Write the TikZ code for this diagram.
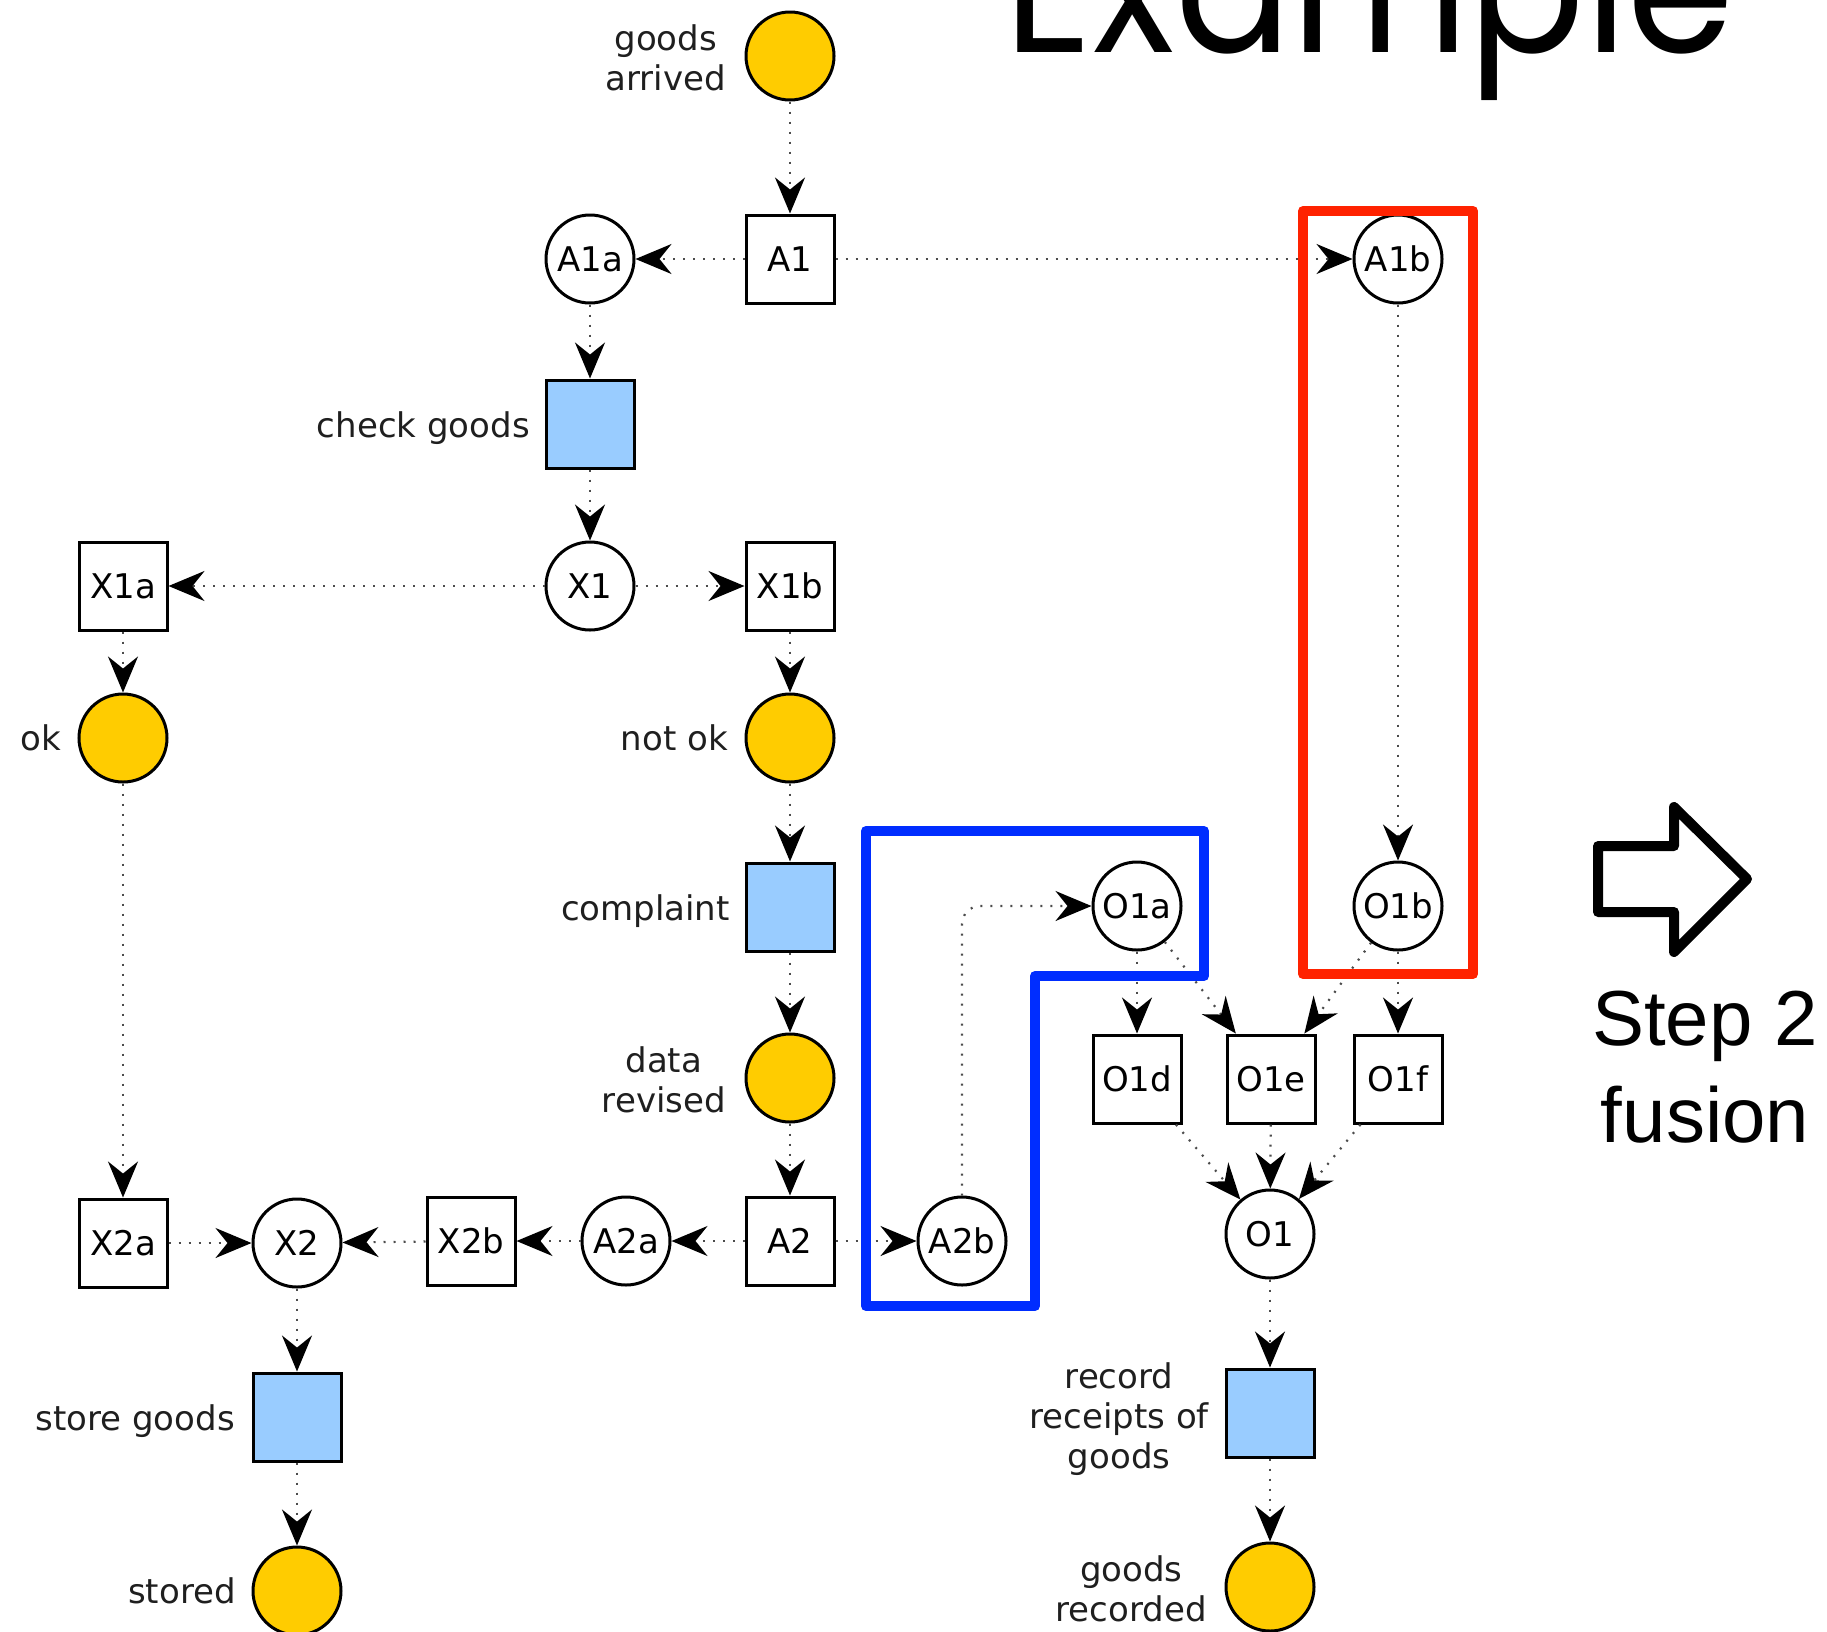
\documentclass[tikz,border=0pt]{standalone}
\usepackage{graphicx}
\usepackage{fontspec}
\setmainfont{DejaVu Sans}
\newfontfamily\armfont{Liberation Sans}
\newfontfamily\titlefont{Poppins}
\usetikzlibrary{arrows.meta}
\definecolor{pyellow}{RGB}{255,204,0}
\definecolor{tblue}{RGB}{153,204,255}
\definecolor{fred}{RGB}{255,34,0}
\definecolor{fblue}{RGB}{0,45,255}
\begin{document}
\begin{tikzpicture}[x=1pt,y=-1pt,
 every node/.style={font=\fontsize{34}{40}\selectfont},
 pl/.style={circle,draw,line width=3pt,minimum size=88pt,inner sep=0pt},
 tr/.style={rectangle,draw,line width=3pt,minimum size=88pt,inner sep=0pt},
 tok/.style={pl,fill=pyellow},
 task/.style={tr,fill=tblue},
 lbl/.style={align=center,inner sep=0pt,anchor=east,text=black!88},
 flow/.style={draw=black!70,line width=2.2pt,dash pattern=on 2pt off 8pt,-{Stealth[black,length=36pt,width=30pt,inset=12pt]}},
 frame/.style={line width=10pt,line join=round},
 ]
\useasboundingbox (0,0) rectangle (1827,1631);
\clip (0,0) rectangle (1827,1631);

% title
\node[anchor=base west,inner sep=0pt,font=\titlefont\fontsize{185}{200}\selectfont] (ttl) at (1004,52) {\resizebox{730pt}{\height}{Example}};

% nodes
\node[tok] (ga) at (790,56) {};
\node[lbl] (gal) at (726,58) {goods\\arrived};
\node[tr] (A1) at (790,259) {A1};
\node[pl] (A1a) at (590,259) {A1a};
\node[pl] (A1b) at (1398,259) {A1b};
\node[task] (cg) at (590,424) {};
\node[lbl] (cgl) at (530,428) {check goods};
\node[pl] (X1) at (590,586) {X1};
\node[tr] (X1a) at (123,586) {X1a};
\node[tr] (X1b) at (790,586) {X1b};
\node[tok] (ok) at (123,738) {};
\node[lbl] (okl) at (61,738) {ok};
\node[tok] (nok) at (790,738) {};
\node[lbl] (nokl) at (728,738) {not ok};
\node[task] (comp) at (790,907) {};
\node[lbl] (compl) at (730,911) {complaint};
\node[tok] (dr) at (790,1078) {};
\node[lbl] (drl) at (726,1080) {data\\revised};
\node[pl] (O1a) at (1137,906) {O1a};
\node[pl] (O1b) at (1398,906) {O1b};
\node[tr] (O1d) at (1137,1079) {O1d};
\node[tr] (O1e) at (1271,1079) {O1e};
\node[tr] (O1f) at (1398,1079) {O1f};
\node[pl] (O1) at (1270,1234) {O1};
\node[tr] (X2a) at (123,1243) {X2a};
\node[pl] (X2) at (297,1243) {X2};
\node[tr] (X2b) at (471,1241) {X2b};
\node[pl] (A2a) at (626,1241) {A2a};
\node[tr] (A2) at (790,1241) {A2};
\node[pl] (A2b) at (962,1241) {A2b};
\node[task] (sg) at (297,1417) {};
\node[lbl] (sgl) at (235,1421) {store goods};
\node[tok] (st) at (297,1591) {};
\node[lbl] (stl) at (236,1591) {stored};
\node[task] (rr) at (1270,1413) {};
\node[lbl] (rrl) at (1209,1419) {record\\receipts of\\goods};
\node[tok] (gr) at (1270,1587) {};
\node[lbl] (grl) at (1207,1589) {goods\\recorded};

% connectors
\draw[flow] (ga) -- (A1);
\draw[flow] (A1) -- (A1a);
\draw[flow] (A1) -- (A1b);
\draw[flow] (A1a) -- (cg);
\draw[flow] (cg) -- (X1);
\draw[flow] (X1) -- (X1a);
\draw[flow] (X1) -- (X1b);
\draw[flow] (X1a) -- (ok);
\draw[flow] (X1b) -- (nok);
\draw[flow] (nok) -- (comp);
\draw[flow] (comp) -- (dr);
\draw[flow] (dr) -- (A2);
\draw[flow] (ok) -- (X2a);
\draw[flow] (X2a) -- (X2);
\draw[flow] (X2b) -- (X2);
\draw[flow] (A2a) -- (X2b);
\draw[flow] (A2) -- (A2a);
\draw[flow] (A2) -- (A2b);
\draw[flow,rounded corners=18pt] (A2b.north) |- (O1a.west);
\draw[flow] (A1b) -- (O1b);
\draw[flow] (O1a) -- (O1d);
\draw[flow] (O1a) -- (O1e);
\draw[flow] (O1b) -- (O1e);
\draw[flow] (O1b) -- (O1f);
\draw[flow] (O1d) -- (O1);
\draw[flow] (O1e) -- (O1);
\draw[flow] (O1f) -- (O1);
\draw[flow] (O1) -- (rr);
\draw[flow] (rr) -- (gr);
\draw[flow] (X2) -- (sg);
\draw[flow] (sg) -- (st);

% highlight frames
\draw[frame,fred] (1303,211) rectangle (1473,974);
\draw[frame,fblue] (866,831) -- (1204,831) -- (1204,976) -- (1035,976) -- (1035,1306) -- (866,1306) -- cycle;

% fusion arrow
\draw[frame] (1598,846) -- (1674,846) -- (1674,807) -- (1747,879) -- (1674,952) -- (1674,912) -- (1598,912) -- cycle;
\node[anchor=base,inner sep=0pt,font=\armfont\fontsize{78}{90}\selectfont] (st2) at (1705,1045) {Step 2};
\node[anchor=base,inner sep=0pt,font=\armfont\fontsize{78}{90}\selectfont] (fus) at (1705,1142) {fusion};
\end{tikzpicture}
\end{document}
